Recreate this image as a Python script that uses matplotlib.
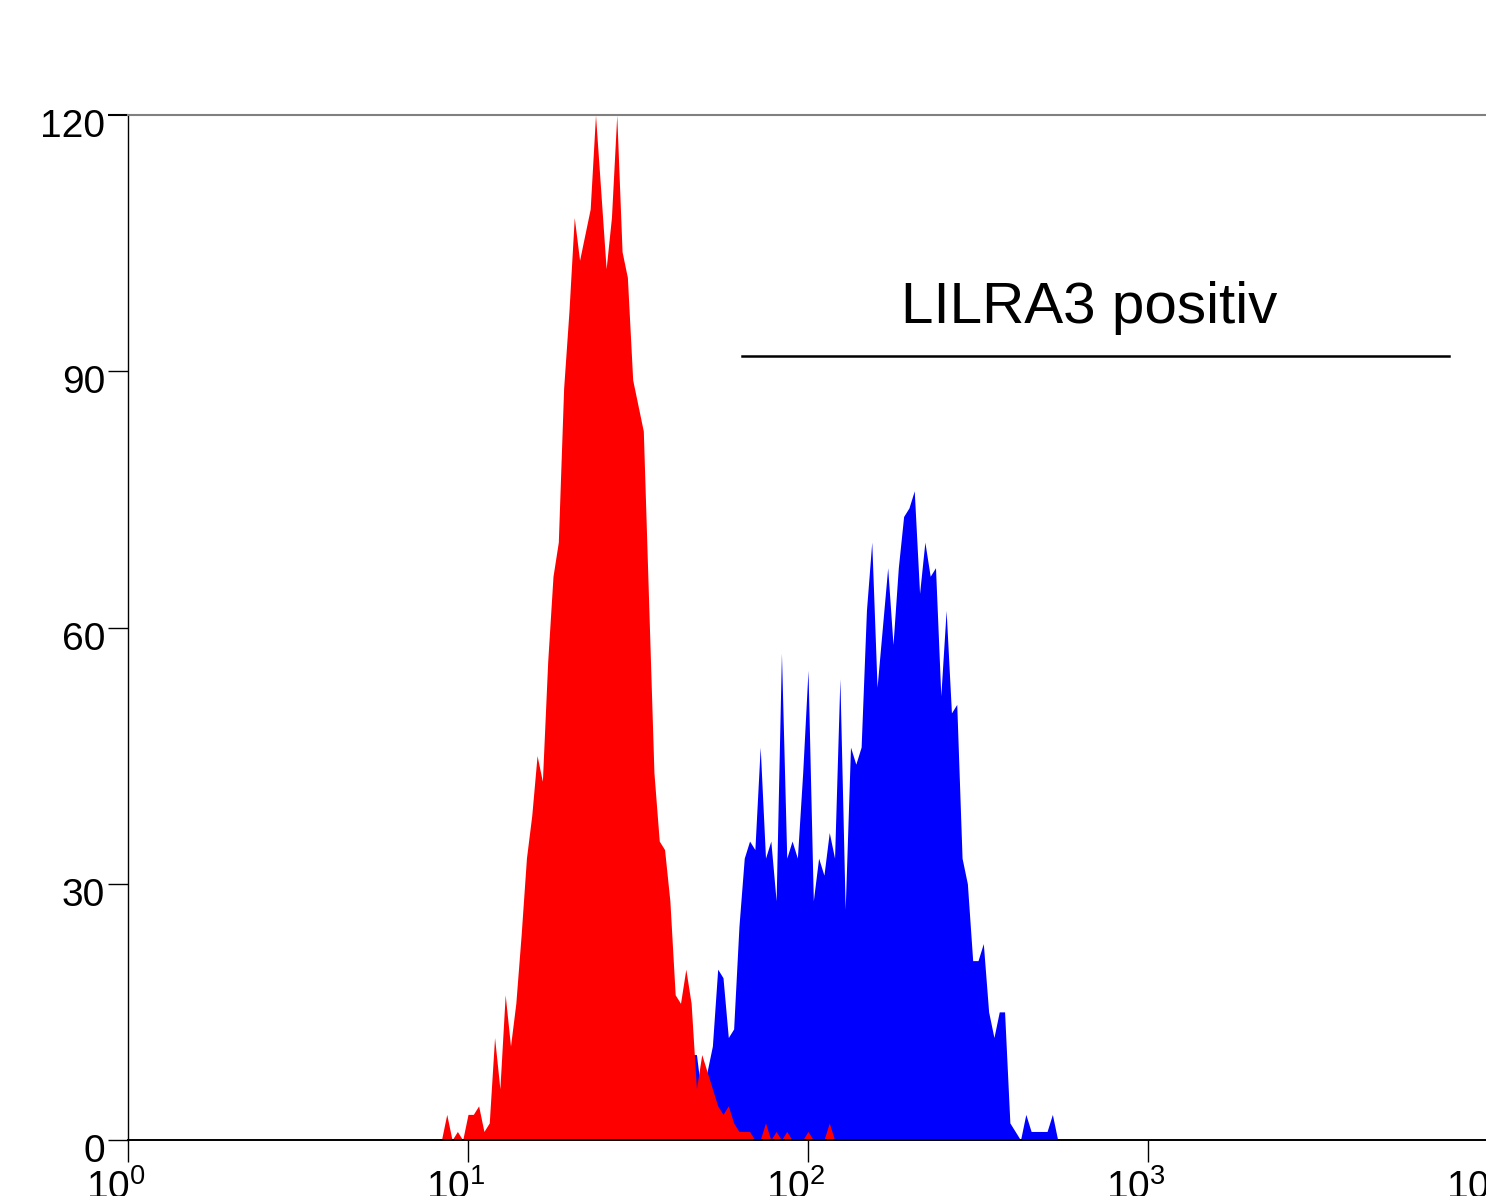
import numpy as np
import matplotlib
matplotlib.use("Agg")
import matplotlib.pyplot as plt
from matplotlib.transforms import ScaledTranslation

# ---------------- data (log channels, 64 channels per decade) ----------------
CH_PER_DECADE = 64

red_start = 59
red_counts = [0, 3, 0, 1, 0, 3, 3, 4, 1, 2, 12, 6, 17, 11, 16, 24, 33, 38, 45, 42,
              56, 66, 70, 88, 97, 108, 103, 106, 109, 120, 111, 102, 108, 120, 104,
              101, 89, 86, 83, 63, 43, 35, 34, 28, 17, 16, 20, 16, 6, 10, 8, 6, 4,
              3, 4, 2, 1, 1, 1, 0, 0, 2, 0, 1, 0, 1, 0, 0, 0, 1, 0, 0, 0, 2, 0]

blue_start = 104
blue_counts = [3, 6, 10, 10, 5, 8, 11, 20, 19, 12, 13, 25, 33, 35, 34, 46, 33, 35,
               28, 57, 33, 35, 33, 43, 55, 28, 33, 31, 36, 33, 54, 27, 46, 44, 46,
               62, 70, 53, 60, 67, 58, 67, 73, 74, 76, 64, 70, 66, 67, 52, 62, 50,
               51, 33, 30, 21, 21, 23, 15, 12, 15, 15, 2, 1, 0, 3, 1, 1, 1, 1, 3, 0]

y_ticks = [0, 30, 60, 90, 120]
x_ticks = [1, 10, 100, 1000, 10000]
x_tick_labels = [r"$\mathregular{10^{0}}$", r"$\mathregular{10^{1}}$",
                 r"$\mathregular{10^{2}}$", r"$\mathregular{10^{3}}$",
                 r"$\mathregular{10^{4}}$"]

gate_label = "LILRA3 positiv"
gate_lo, gate_hi, gate_y = 64, 7700, 91.8

# ---------------- figure ----------------
plt.rcParams["font.family"] = ["Liberation Sans Narrow", "Liberation Sans", "DejaVu Sans"]
plt.rcParams["mathtext.fontset"] = "custom"
plt.rcParams["mathtext.rm"] = "Liberation Sans"

fig = plt.figure(figsize=(14.86, 11.96), dpi=100)
ax = fig.add_axes([128 / 1486, 1 - 1140 / 1196, 1360 / 1486, 1025 / 1196])

red_ch = red_start + np.arange(len(red_counts))
blue_ch = blue_start + np.arange(len(blue_counts))
red_x = 10 ** (red_ch / CH_PER_DECADE)
blue_x = 10 ** (blue_ch / CH_PER_DECADE)

ax.fill_between(blue_x, 0, blue_counts, color="#0000FF", lw=0, zorder=2)
ax.fill_between(red_x, 0, red_counts, color="#FF0000", lw=0, zorder=3)

ax.set_xscale("log")
ax.set_xlim(1, 10000)
ax.set_ylim(0, 120)

ax.set_yticks(y_ticks)
ax.set_yticklabels([str(v) for v in y_ticks])
ax.set_xticks(x_ticks)
ax.set_xticklabels(x_tick_labels)
ax.xaxis.set_minor_locator(matplotlib.ticker.NullLocator())

ax.tick_params(axis="y", length=14.4, width=1.0, pad=2, labelsize=28, color="black")
ax.tick_params(axis="x", length=16, width=1.0, pad=5, labelsize=28, color="black")

for lab in ax.get_yticklabels():
    lab.set_transform(lab.get_transform() + ScaledTranslation(0, -8 / 100, fig.dpi_scale_trans))
for lab in ax.get_xticklabels():
    lab.set_transform(lab.get_transform() + ScaledTranslation(-12 / 100, 0, fig.dpi_scale_trans))

yt = ax.yaxis.get_major_ticks()
yt[-1].tick1line.set_color("#808080")
yt[-1].tick1line.set_markeredgewidth(1.5)
xt = ax.xaxis.get_major_ticks()
for t in xt[2:]:
    t.tick1line.set_color("#808080")

ax.spines["right"].set_visible(False)
ax.spines["top"].set_color("#808080")
ax.spines["top"].set_linewidth(1.5)
ax.spines["left"].set_color("black")
ax.spines["left"].set_linewidth(1.0)
ax.spines["bottom"].set_color("black")
ax.spines["bottom"].set_linewidth(1.4)
for s in ax.spines.values():
    s.set_zorder(4)

# gate
ax.plot([gate_lo, gate_hi], [gate_y, gate_y], color="black", lw=1.8, zorder=5)
ax.text(np.sqrt(gate_lo * gate_hi) * 0.955, gate_y + 3.8, gate_label, ha="center",
        va="baseline", fontsize=42, family=["Liberation Sans", "DejaVu Sans"], zorder=5)

fig.savefig("out.png", dpi=100)
